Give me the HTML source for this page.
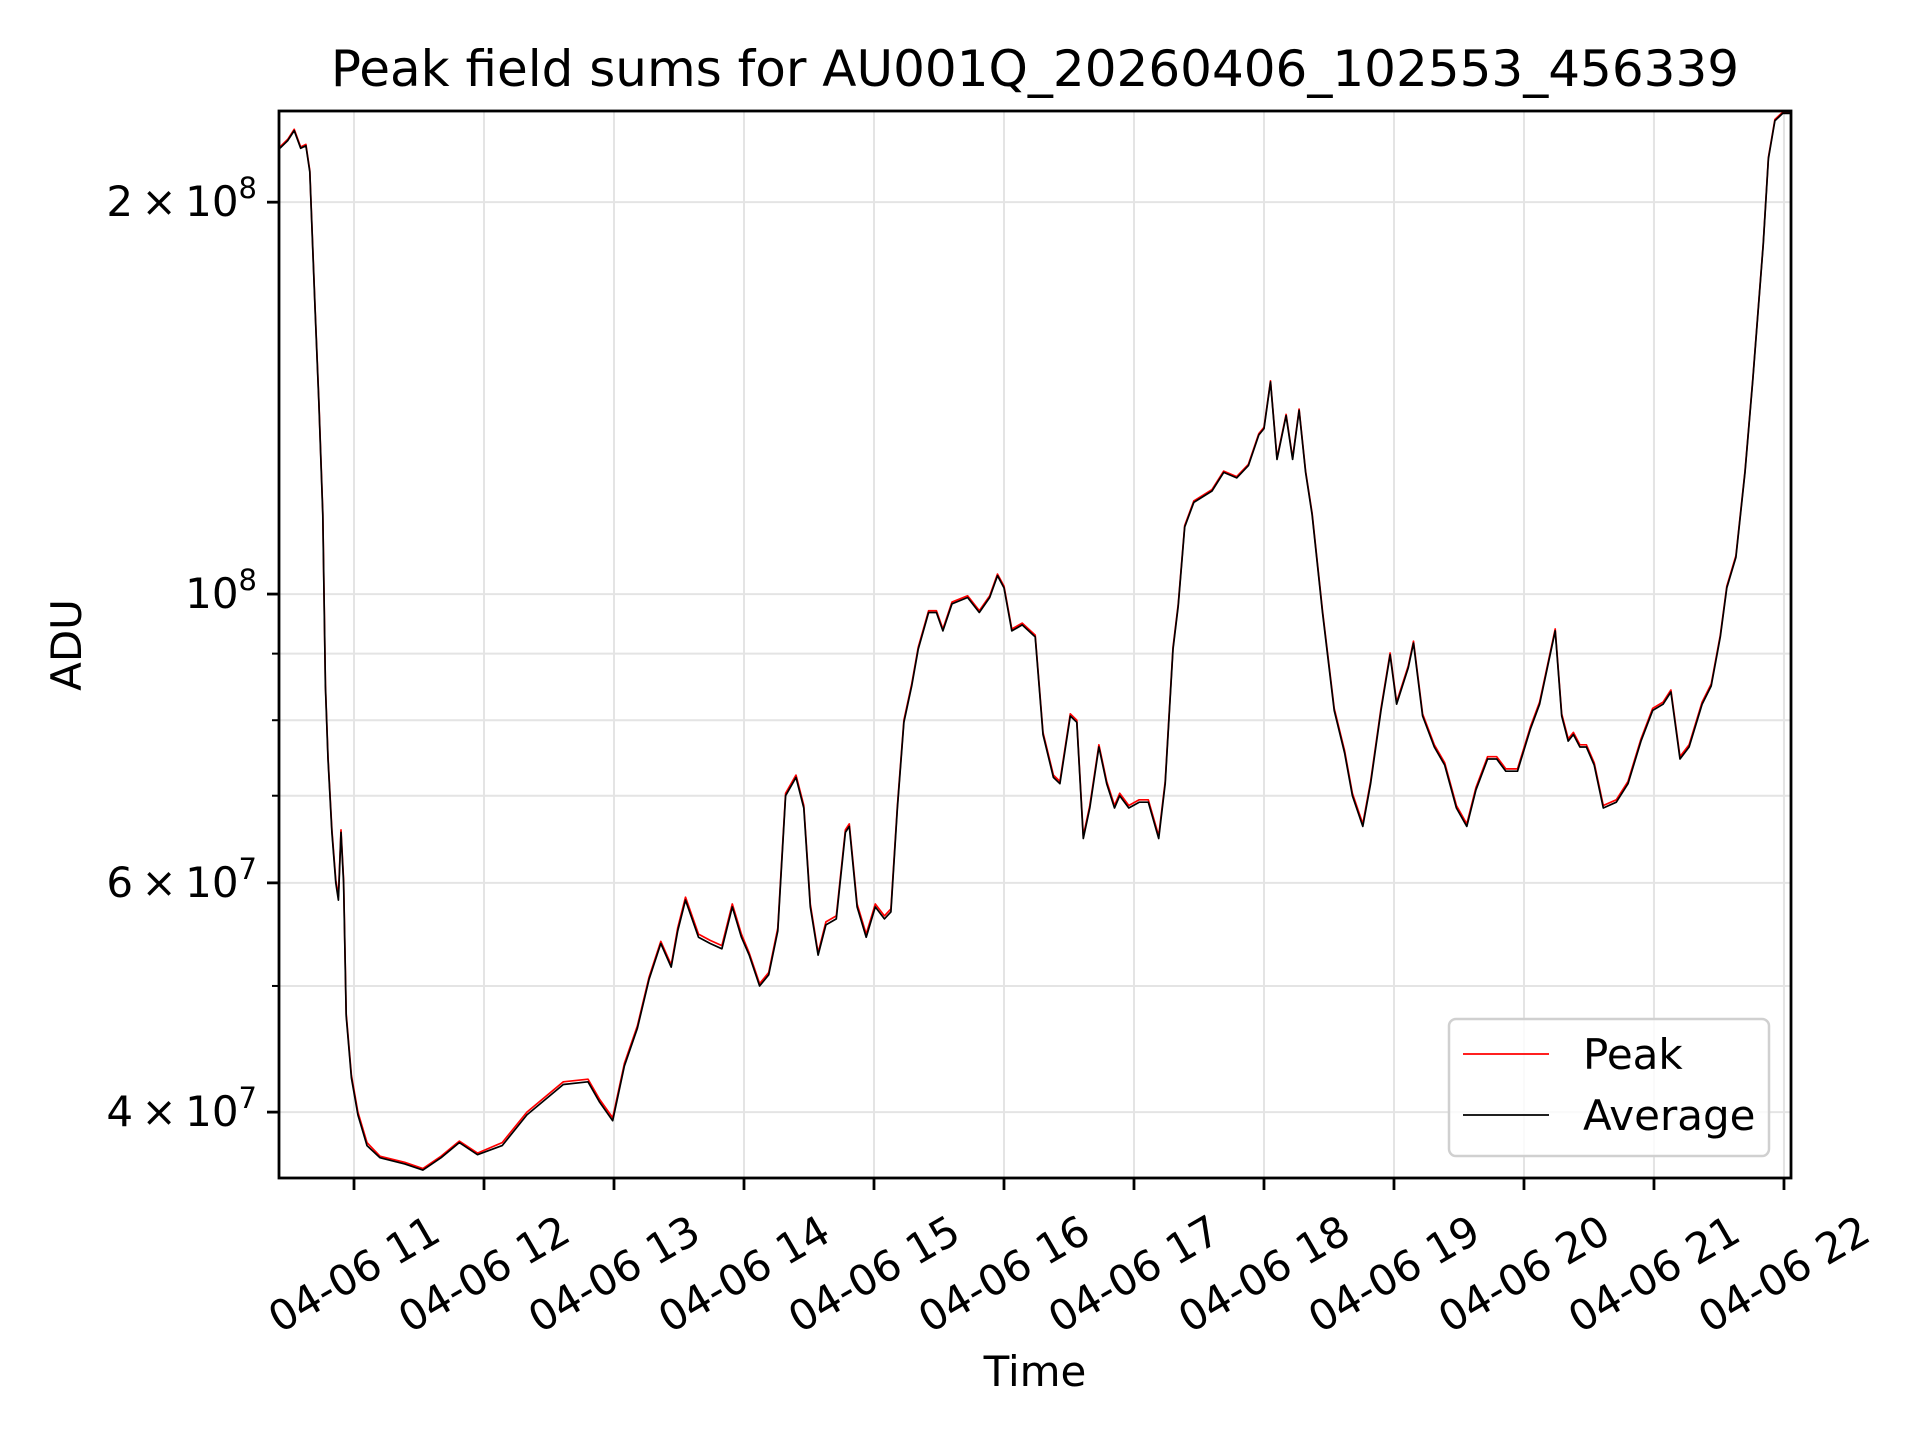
<!DOCTYPE html>
<html><head><meta charset="utf-8"><style>
html,body{margin:0;padding:0;background:#fff;}
svg{display:block;font-family:"DejaVu Sans","Liberation Sans",sans-serif;}
</style></head><body>
<svg id="chart" width="1920" height="1440" viewBox="0 0 1920 1440" xmlns="http://www.w3.org/2000/svg">
<rect width="1920" height="1440" fill="#fff"/>
<text x="1035" y="86" font-size="50" text-anchor="middle">Peak field sums for AU001Q_20260406_102553_456339</text>
<defs><clipPath id="plotclip"><rect x="279" y="111" width="1512" height="1067"/></clipPath></defs>
<g id="grid"></g>
<g id="series" clip-path="url(#plotclip)"></g>
<rect x="279" y="111" width="1512" height="1067" fill="none" stroke="#000" stroke-width="2.8"/>
<g id="xaxis"></g>
<g id="yaxis"></g>
<text x="1035" y="1386" font-size="42" text-anchor="middle">Time</text>
<text x="0" y="0" font-size="42" text-anchor="middle" transform="translate(81,645) rotate(-90)">ADU</text>
<g>
<rect x="1449" y="1019" width="320" height="137" rx="7" fill="#fff" fill-opacity="0.8" stroke="#d0d0d0" stroke-width="2.5"/>
<line x1="1463" y1="1054" x2="1549" y2="1054" stroke="#ff0000" stroke-width="1.7"/>
<text x="1583" y="1069" font-size="42">Peak</text>
<line x1="1463" y1="1115" x2="1549" y2="1115" stroke="#000" stroke-width="1.7"/>
<text x="1583" y="1130" font-size="42">Average</text>
</g>
</svg>
<script>
const times=[10.43,10.49,10.54,10.59,10.63,10.66,10.70,10.73,10.76,10.78,10.80,10.83,10.86,10.88,10.90,10.92,10.94,10.98,11.03,11.10,11.20,11.39,11.53,11.67,11.81,11.95,12.14,12.33,12.61,12.80,12.89,12.99,13.08,13.18,13.27,13.36,13.44,13.49,13.55,13.65,13.74,13.83,13.91,13.98,14.04,14.12,14.19,14.26,14.32,14.40,14.46,14.51,14.57,14.63,14.71,14.78,14.81,14.87,14.94,15.01,15.08,15.13,15.18,15.23,15.29,15.34,15.42,15.48,15.53,15.60,15.72,15.81,15.89,15.95,16.00,16.06,16.14,16.24,16.30,16.38,16.43,16.51,16.56,16.61,16.66,16.73,16.79,16.85,16.89,16.96,17.04,17.11,17.19,17.24,17.30,17.34,17.39,17.46,17.60,17.69,17.79,17.88,17.96,18.00,18.05,18.10,18.17,18.22,18.27,18.32,18.37,18.45,18.54,18.62,18.68,18.76,18.82,18.90,18.97,19.02,19.11,19.15,19.22,19.31,19.39,19.48,19.56,19.63,19.72,19.79,19.86,19.95,20.05,20.12,20.18,20.24,20.29,20.34,20.38,20.43,20.48,20.54,20.61,20.71,20.80,20.90,20.99,21.07,21.13,21.20,21.27,21.37,21.44,21.51,21.56,21.63,21.70,21.76,21.84,21.88,21.93,21.99,22.05];
const avgVals=[2.20,2.23,2.27,2.20,2.21,2.11,1.66,1.40,1.15,0.85,0.747,0.656,0.60,0.582,0.656,0.60,0.474,0.425,0.398,0.377,0.369,0.365,0.361,0.369,0.379,0.371,0.377,0.398,0.420,0.422,0.407,0.394,0.434,0.464,0.506,0.539,0.517,0.551,0.582,0.545,0.539,0.534,0.575,0.545,0.528,0.500,0.510,0.551,0.700,0.723,0.685,0.575,0.528,0.557,0.563,0.656,0.663,0.575,0.545,0.575,0.563,0.570,0.685,0.797,0.850,0.907,0.968,0.968,0.937,0.983,0.994,0.968,0.994,1.033,1.011,0.937,0.947,0.927,0.780,0.723,0.715,0.806,0.797,0.649,0.685,0.763,0.715,0.685,0.700,0.685,0.692,0.692,0.649,0.715,0.907,0.979,1.126,1.176,1.200,1.240,1.228,1.255,1.325,1.340,1.455,1.269,1.371,1.269,1.384,1.240,1.151,0.968,0.814,0.755,0.700,0.663,0.715,0.814,0.898,0.823,0.878,0.917,0.806,0.763,0.739,0.685,0.663,0.707,0.747,0.747,0.731,0.731,0.788,0.823,0.878,0.937,0.806,0.771,0.780,0.763,0.763,0.739,0.685,0.692,0.715,0.771,0.814,0.823,0.841,0.747,0.763,0.823,0.850,0.927,1.011,1.067,1.240,1.460,1.854,2.16,2.31,2.34,2.34];
const peakVals=[2.205,2.235,2.275,2.205,2.215,2.115,1.665,1.405,1.155,0.853,0.750,0.659,0.603,0.586,0.659,0.603,0.476,0.427,0.400,0.379,0.370,0.366,0.362,0.370,0.380,0.372,0.379,0.400,0.422,0.424,0.409,0.396,0.436,0.466,0.508,0.541,0.519,0.554,0.585,0.548,0.542,0.537,0.578,0.548,0.530,0.502,0.512,0.554,0.703,0.726,0.688,0.578,0.530,0.560,0.566,0.659,0.666,0.578,0.548,0.578,0.566,0.573,0.688,0.800,0.853,0.910,0.971,0.971,0.940,0.986,0.997,0.971,0.997,1.036,1.014,0.940,0.950,0.930,0.783,0.726,0.718,0.809,0.800,0.652,0.688,0.766,0.718,0.688,0.703,0.688,0.695,0.695,0.652,0.718,0.910,0.982,1.129,1.179,1.203,1.243,1.231,1.258,1.328,1.343,1.458,1.272,1.374,1.272,1.387,1.243,1.154,0.971,0.817,0.758,0.703,0.666,0.718,0.817,0.901,0.826,0.881,0.920,0.809,0.766,0.742,0.688,0.666,0.710,0.750,0.750,0.734,0.734,0.791,0.826,0.881,0.940,0.809,0.774,0.783,0.766,0.766,0.742,0.688,0.695,0.718,0.774,0.817,0.826,0.844,0.750,0.766,0.826,0.853,0.930,1.014,1.070,1.243,1.463,1.857,2.165,2.315,2.345,2.345];
const xTickHours=[11,12,13,14,15,16,17,18,19,20,21,22];
const xTickLabels=["04-06 11","04-06 12","04-06 13","04-06 14","04-06 15","04-06 16","04-06 17","04-06 18","04-06 19","04-06 20","04-06 21","04-06 22"];
const yMajorVals=[4e7,6e7,1e8,2e8];
const yMajorMant=["4","6",null,"2"];
const yMajorExp=["7","7","8","8"];
const yMinorVals=[5e7,7e7,8e7,9e7];

const NS="http://www.w3.org/2000/svg";
const X0=279,X1=1791,Y0=111,Y1=1178;
const tMin=10.423,tMax=22.054;
const lMax=Math.log10(2.35e8),lMin=Math.log10(3.56e7);
function xs(t){return X0+(t-tMin)/(tMax-tMin)*(X1-X0);}
function ys(v){return Y0+(lMax-Math.log10(v))/(lMax-lMin)*(Y1-Y0);}
function mk(tag,attrs,parent){const e=document.createElementNS(NS,tag);for(const k in attrs)e.setAttribute(k,attrs[k]);parent.appendChild(e);return e;}
const grid=document.getElementById('grid'),xa=document.getElementById('xaxis'),ya=document.getElementById('yaxis'),ser=document.getElementById('series');
xTickHours.forEach((h,i)=>{const x=xs(h);
 const g=mk('line',{x1:x,x2:x,y1:Y0,y2:Y1,stroke:'#e4e4e4','stroke-width':2},grid);
 
 
 const tk=mk('line',{x1:x,x2:x,y1:Y1,y2:Y1+12,stroke:'#000','stroke-width':2.8},xa);
 
 
 const tx=mk('text',{x:x,y:1274,'font-size':42,'text-anchor':'middle','dominant-baseline':'central',transform:'rotate(-30 '+x+' 1274)'},xa);
 tx.textContent=xTickLabels[i];
 
 
});
yMinorVals.forEach(v=>{const y=ys(v);
 const g=mk('line',{x1:X0,x2:X1,y1:y,y2:y,stroke:'#e4e4e4','stroke-width':2},grid);
 
 
 const tk=mk('line',{x1:X0-7,x2:X0,y1:y,y2:y,stroke:'#000','stroke-width':2},ya);
 
 
});
yMajorVals.forEach((v,i)=>{const y=ys(v);
 const g=mk('line',{x1:X0,x2:X1,y1:y,y2:y,stroke:'#e4e4e4','stroke-width':2},grid);
 
 
 const tk=mk('line',{x1:X0-12,x2:X0,y1:y,y2:y,stroke:'#000','stroke-width':2.8},ya);
 
 
 const tx=mk('text',{x:X0-22,y:y+14,'font-size':42,'text-anchor':'end'},ya);
 
 
 const m=yMajorMant[i];
 const t1=document.createElementNS(NS,'tspan');t1.textContent=(m?m+'\u2009\u00d7\u200910':'10');tx.appendChild(t1);
 const t2=document.createElementNS(NS,'tspan');t2.setAttribute('font-size','29');t2.setAttribute('dy','-18');t2.textContent=yMajorExp[i];tx.appendChild(t2);
});
function path(vals,color,name){let d='';times.forEach((t,i)=>{d+=(i?'L':'M')+xs(t).toFixed(1)+','+ys(vals[i]*1e8).toFixed(1);});
 const p=mk('path',{d:d,fill:'none',stroke:color,'stroke-width':1.7,'stroke-linejoin':'round'},ser);
 
 
}
path(peakVals,'#ff0000','peak-line');
path(avgVals,'#000000','average-line');
</script>
</body></html>
